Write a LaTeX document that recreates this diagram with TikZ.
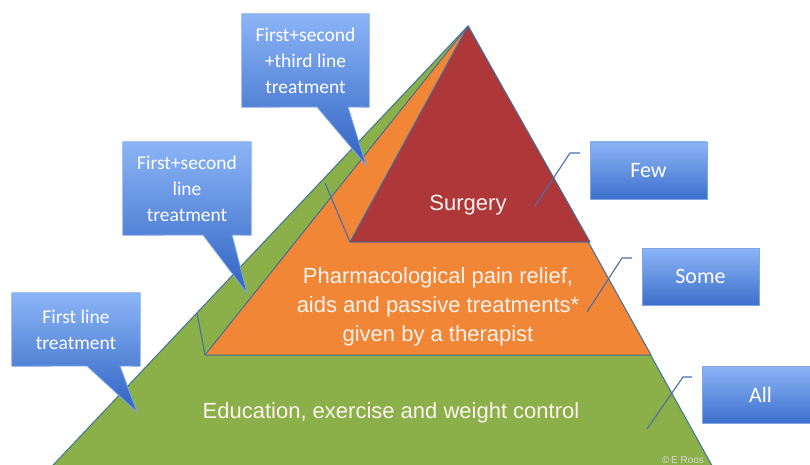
\documentclass[tikz,border=0pt]{standalone}
\usepackage{fontspec}
\setmainfont{Liberation Sans}
\newfontfamily\calfont{Carlito}
\definecolor{pgreen}{HTML}{8BB04A}
\definecolor{porange}{HTML}{F08636}
\definecolor{pred}{HTML}{AE373A}
\definecolor{pedge}{HTML}{41719C}
\definecolor{cltop}{HTML}{8CB5F7}
\definecolor{clbot}{HTML}{2F63C2}
\definecolor{rbot}{HTML}{3D70CC}
\definecolor{cledge}{HTML}{7FA6E8}
\definecolor{lnk}{HTML}{4A6FA8}
\definecolor{mtext}{HTML}{FCF2EE}
\tikzset{
  layer/.style={draw=pedge, line width=1pt, line join=round},
  maintext/.style={text=mtext, font=\fontsize{22}{29}\selectfont, align=center, inner sep=0pt},
  caltext/.style={text=white, font=\calfont\fontsize{19.5}{26}\selectfont, align=center, inner sep=0pt},
  callshape/.style={top color=cltop, bottom color=clbot, draw=cledge, line width=0.8pt},
  rbox/.style={top color=cltop, bottom color=rbot, draw=cledge, line width=0.8pt,
    minimum width=117pt, minimum height=57pt, inner sep=0pt, text=white,
    font=\calfont\fontsize{22}{26}\selectfont},
  lnkline/.style={draw=lnk, line width=1.1pt},
}
\begin{document}
\begin{tikzpicture}[x=1pt,y=-1pt]
\useasboundingbox (0,0) rectangle (810,465);
\clip (0,0) rectangle (810,465);
\fill[white] (0,0) rectangle (810,465);

% pyramid vertices
\coordinate (A) at (468,26);
\coordinate (GL) at (39,480);
\coordinate (GR) at (720,480);
\coordinate (OL) at (205,355);
\coordinate (OR) at (651,355);
\coordinate (RL) at (350,242);
\coordinate (RR) at (590,242);

\filldraw[layer, fill=pgreen] (A) -- (GL) -- (GR) -- cycle;
\filldraw[layer, fill=porange] (A) -- (OL) -- (OR) -- cycle;
\filldraw[layer, fill=pred] (A) -- (RL) -- (RR) -- cycle;

% small marker lines on the left side
\coordinate (m1) at (197,313);
\coordinate (m2) at (325,183);
\draw[lnkline] (m1) -- (OL);
\draw[lnkline] (m2) -- (RL);

% texts in the pyramid
\node[maintext] (surg) at (468,205) {Surgery};
\node[maintext] (pharm) at (438,307) {Pharmacological pain relief,\\aids and passive treatments*\\given by a therapist};
\node[maintext] (edu) at (391,413) {Education, exercise and weight control};
\node[text=white!85!black, font=\fontsize{10}{11}\selectfont, inner sep=0pt] (copy) at (683,460) {\copyright\,E Roos};

% left callouts
\node[minimum width=127pt, minimum height=93pt, inner sep=0pt] (c1) at (305.5,60.5) {};
\coordinate (c1a) at (317,107); \coordinate (c1b) at (348,107); \coordinate (c1t) at (366,165);
\path[callshape] (c1.north west) -- (c1.north east) -- (c1.south east) -- (c1b) -- (c1t) -- (c1a) -- (c1.south west) -- cycle;
\node[caltext] (c1txt) at (c1) {First+second\\+third line\\treatment};

\node[minimum width=128pt, minimum height=93pt, inner sep=0pt] (c2) at (187,188.5) {};
\coordinate (c2a) at (203,235); \coordinate (c2b) at (232,235); \coordinate (c2t) at (247,293);
\path[callshape] (c2.north west) -- (c2.north east) -- (c2.south east) -- (c2b) -- (c2t) -- (c2a) -- (c2.south west) -- cycle;
\node[caltext] (c2txt) at (c2) {First+second\\line\\treatment};

\node[minimum width=128pt, minimum height=73pt, inner sep=0pt] (c3) at (76,329.5) {};
\coordinate (c3a) at (87,366); \coordinate (c3b) at (120,366); \coordinate (c3t) at (137,412);
\path[callshape] (c3.north west) -- (c3.north east) -- (c3.south east) -- (c3b) -- (c3t) -- (c3a) -- (c3.south west) -- cycle;
\node[caltext] (c3txt) at (c3) {First line\\treatment};

% right boxes
\node[rbox] (few) at (648.5,170.5) {Few};
\node[rbox] (some) at (700.5,276.5) {Some};
\node[rbox] (all) at (760.5,394.5) {All};

% line callouts on the right
\coordinate (f1) at (580,153); \coordinate (f2) at (570,153); \coordinate (f3) at (535,206);
\draw[lnkline] (f1) -- (f2) -- (f3);
\coordinate (s1) at (632,258); \coordinate (s2) at (622,258); \coordinate (s3) at (587,312);
\draw[lnkline] (s1) -- (s2) -- (s3);
\coordinate (a1) at (692,377); \coordinate (a2) at (683,377); \coordinate (a3) at (647,429);
\draw[lnkline] (a1) -- (a2) -- (a3);
\end{tikzpicture}
\end{document}
